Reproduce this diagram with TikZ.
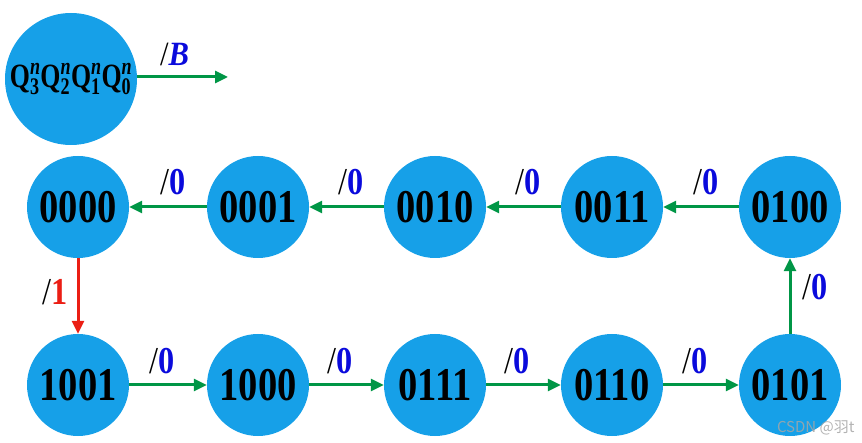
\documentclass[tikz,border=0pt]{standalone}
\usepackage{fontspec}
\usepackage{amsmath}
\usepackage{graphicx}
\setmainfont{Liberation Serif}
\newfontfamily\cjkfont{Noto Sans CJK SC}
\usetikzlibrary{arrows.meta}
\definecolor{stfill}{RGB}{22,160,232}
\definecolor{arrgreen}{RGB}{0,150,70}
\definecolor{arrred}{RGB}{235,30,20}
\definecolor{lblblue}{RGB}{10,10,220}
\newcommand{\stt}[1]{\scalebox{0.82}[1]{#1}}
\newcommand{\lbl}[2]{\scalebox{0.85}[1]{/\textcolor{#1}{\textbf{#2}}}}
\newcommand{\qq}[1]{\ensuremath{\text{\textbf{Q}}^{\text{\textbf{\textit{n}}}}_{\text{\textbf{#1}}}}}
\tikzset{
  stnode/.style={circle, fill=stfill, minimum size=102pt, inner sep=0pt,
    font=\fontsize{47}{47}\selectfont\bfseries},
  legnode/.style={circle, fill=stfill, minimum size=132pt, inner sep=0pt,
    font=\fontsize{34}{34}\selectfont},
  garrow/.style={draw=arrgreen, line width=3pt, -{Triangle[length=13pt,width=12pt]}},
  rarrow/.style={draw=arrred, line width=3pt, -{Triangle[length=13pt,width=12pt]}},
  elabel/.style={font=\fontsize{38}{38}\selectfont, inner sep=0pt},
  wmark/.style={font=\cjkfont\fontsize{15}{15}\selectfont, text=black!35, opacity=0.85}
}
\begin{document}
\begin{tikzpicture}[x=1pt, y=-1pt]
\useasboundingbox (0,0) rectangle (862,443);
% legend
\node[legnode] (leg) at (71,79) {\scalebox{0.76}[1]{\qq{3}\qq{2}\qq{1}\qq{0}}};
\coordinate (legend) at (228,77);
\draw[garrow] (leg.east |- legend) -- (legend)
  node[midway, yshift=23pt, xshift=-8pt, elabel, font=\fontsize{34}{34}\selectfont]
  {\scalebox{0.9}[1]{/\textcolor{lblblue}{\textbf{\textit{B}}}}};
% states
\node[stnode] (s0000) at (78,207) {\stt{0000}};
\node[stnode] (s0001) at (258,207) {\stt{0001}};
\node[stnode] (s0010) at (435,207) {\stt{0010}};
\node[stnode] (s0011) at (612,207) {\stt{0011}};
\node[stnode] (s0100) at (790,207) {\stt{0100}};
\node[stnode] (s1001) at (78,385) {\stt{1001}};
\node[stnode] (s1000) at (258,385) {\stt{1000}};
\node[stnode] (s0111) at (435,385) {\stt{0111}};
\node[stnode] (s0110) at (612,385) {\stt{0110}};
\node[stnode] (s0101) at (790,385) {\stt{0101}};
% transitions
\draw[garrow] (s0001) -- (s0000) node[midway, yshift=25pt, xshift=5pt, elabel] {\lbl{lblblue}{0}};
\draw[garrow] (s0010) -- (s0001) node[midway, yshift=25pt, xshift=5pt, elabel] {\lbl{lblblue}{0}};
\draw[garrow] (s0011) -- (s0010) node[midway, yshift=25pt, xshift=5pt, elabel] {\lbl{lblblue}{0}};
\draw[garrow] (s0100) -- (s0011) node[midway, yshift=25pt, xshift=5pt, elabel] {\lbl{lblblue}{0}};
\draw[rarrow] (s0000) -- (s1001) node[midway, xshift=-23pt, yshift=4pt, elabel] {\lbl{arrred}{1}};
\draw[garrow] (s1001) -- (s1000) node[midway, yshift=24pt, xshift=-6pt, elabel] {\lbl{lblblue}{0}};
\draw[garrow] (s1000) -- (s0111) node[midway, yshift=24pt, xshift=-6pt, elabel] {\lbl{lblblue}{0}};
\draw[garrow] (s0111) -- (s0110) node[midway, yshift=24pt, xshift=-6pt, elabel] {\lbl{lblblue}{0}};
\draw[garrow] (s0110) -- (s0101) node[midway, yshift=24pt, xshift=-6pt, elabel] {\lbl{lblblue}{0}};
\draw[garrow] (s0101) -- (s0100) node[midway, xshift=25pt, yshift=9pt, elabel] {\lbl{lblblue}{0}};
% watermark
\node[wmark, anchor=east] (wm) at (858,428) {CSDN @羽t};
\end{tikzpicture}
\end{document}
